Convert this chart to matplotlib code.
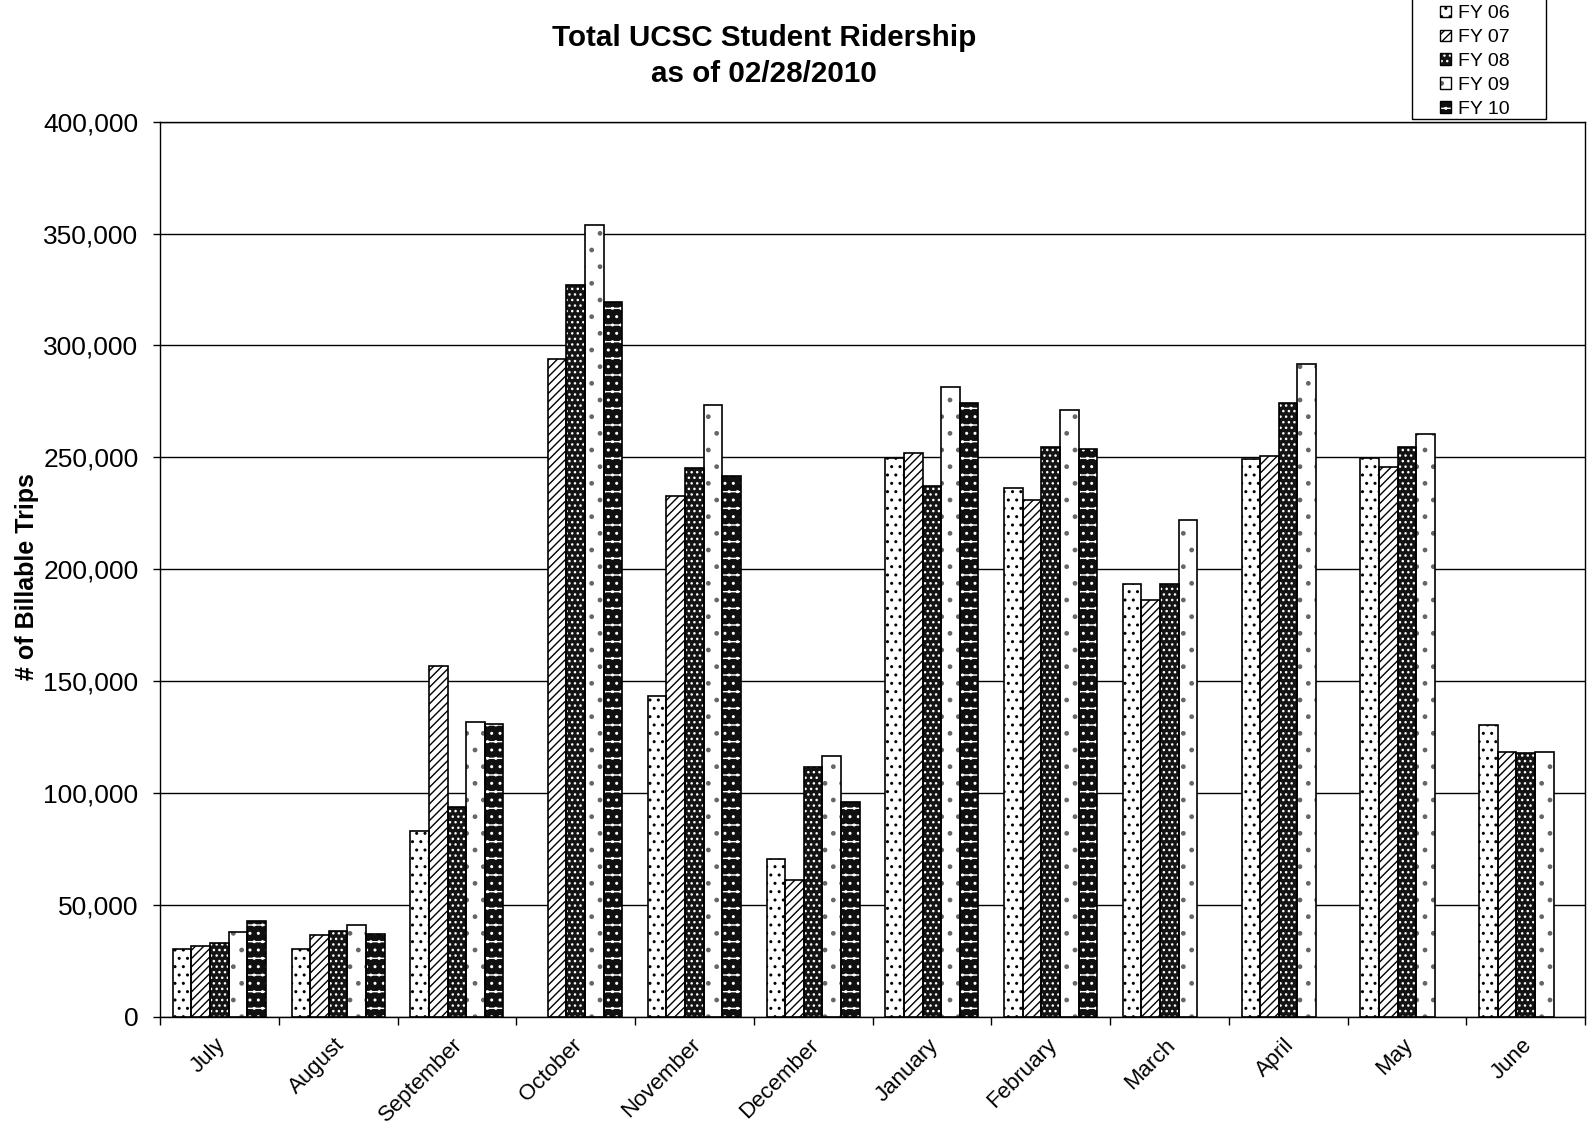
import numpy as np
import matplotlib
matplotlib.use("Agg")
import matplotlib.pyplot as plt
from matplotlib.patches import Patch, Rectangle
from matplotlib.legend_handler import HandlerTuple
from matplotlib.transforms import ScaledTranslation
from matplotlib.ticker import FuncFormatter, MultipleLocator, FixedLocator

plt.rcParams["font.family"] = ["Liberation Sans", "DejaVu Sans"]
plt.rcParams["hatch.linewidth"] = 1.0

months = ["July", "August", "September", "October", "November", "December",
          "January", "February", "March", "April", "May", "June"]
fiscal_years = ["FY 06", "FY 07", "FY 08", "FY 09", "FY 10"]

nan = np.nan
fy06 = [30600, 30400, 83200, nan, 143300, 70400, 249700, 236500, 193300, 249300, 249700, 130300]
fy07 = [31900, 36800, 157000, 293900, 232800, 61400, 252000, 231000, 186400, 250700, 245600, 118200]
fy08 = [33000, 38400, 93700, 327000, 245200, 111500, 237000, 254700, 193500, 274200, 254800, 117800]
fy09 = [38000, 41200, 131800, 353800, 273600, 116500, 281400, 271300, 222000, 291900, 260300, 118500]
fy10 = [42900, 37100, 131100, 319500, 241500, 96100, 274400, 253800, nan, nan, nan, nan]
series = [fy06, fy07, fy08, fy09, fy10]

# fill colour, hatch colour, hatch pattern for each fiscal year
styles = [
    ("white", "black", ".."),
    ("white", "black", "////"),
    ("#141414", "white", "..."),
    ("white", "#666666", "."),
    ("#101010", "white", "-.."),
]

W, H = 1588, 1126
fig = plt.figure(figsize=(W / 100, H / 100), dpi=100)
ax = fig.add_axes([160 / W, 1 - 1017 / H, 1425 / W, 895.4 / H])

x = np.arange(len(months))
bw = 0.157
for i, (vals, (face, hcol, hatch)) in enumerate(zip(series, styles)):
    pos = x + (i - 2) * bw
    v = np.array(vals, dtype=float)
    ax.bar(pos, v, bw, color=face, edgecolor=hcol, hatch=hatch, linewidth=0, zorder=2)
    ax.bar(pos, v, bw, fill=False, edgecolor="black", linewidth=1.2, zorder=3)

ax.set_xlim(-0.5, len(months) - 0.5)
ax.set_ylim(0, 400000)
ax.yaxis.set_major_locator(MultipleLocator(50000))
ax.yaxis.set_major_formatter(FuncFormatter(lambda v, p: f"{v:,.0f}"))
ax.grid(axis="y", color="black", linewidth=1.0, zorder=0)
ax.set_axisbelow(True)
for s in ax.spines.values():
    s.set_linewidth(1.0)

ax.tick_params(axis="y", direction="out", length=5, width=1, pad=10.5, labelsize=19)
ax.set_xticks(x)
ax.set_xticklabels(months, rotation=45, ha="right", va="center", rotation_mode="anchor", fontsize=16)
ax.tick_params(axis="x", which="major", length=0, pad=18)
ax.xaxis.set_minor_locator(FixedLocator(np.arange(-0.5, len(months), 1.0)))
ax.tick_params(axis="x", which="minor", direction="out", length=6, width=1)
shift = ScaledTranslation(3 / 100, 0, fig.dpi_scale_trans)
for lab in ax.get_xticklabels():
    lab.set_transform(lab.get_transform() + shift)

fig.text(764 / W, 1 - 56 / H, "Total UCSC Student Ridership\nas of 02/28/2010",
         ha="center", va="center", fontsize=21.3, fontweight="bold", linespacing=1.4)
fig.text(27 / W, 1 - 577 / H, "# of Billable Trips", rotation=90,
         ha="center", va="center", fontsize=18, fontweight="bold")

handles = []
for face, hcol, hatch in styles:
    handles.append((Patch(facecolor=face, edgecolor=hcol, hatch=hatch, linewidth=0),
                    Patch(fill=False, edgecolor="black", linewidth=1.0)))
fig.legend(handles, fiscal_years, loc="upper left", bbox_to_anchor=(1440 / W, 1 - 5.5 / H),
           frameon=False, fontsize=14, handlelength=0.55, handleheight=0.55,
           handletextpad=0.35, labelspacing=0.35, borderpad=0, borderaxespad=0,
           handler_map={tuple: HandlerTuple(ndivide=1, pad=0)})
fig.add_artist(Rectangle((1411.7 / W, 1 - 119 / H), 134 / W, 130 / H,
                         transform=fig.transFigure, fill=False, edgecolor="black", linewidth=1.0))

fig.savefig("out.png", dpi=100)
